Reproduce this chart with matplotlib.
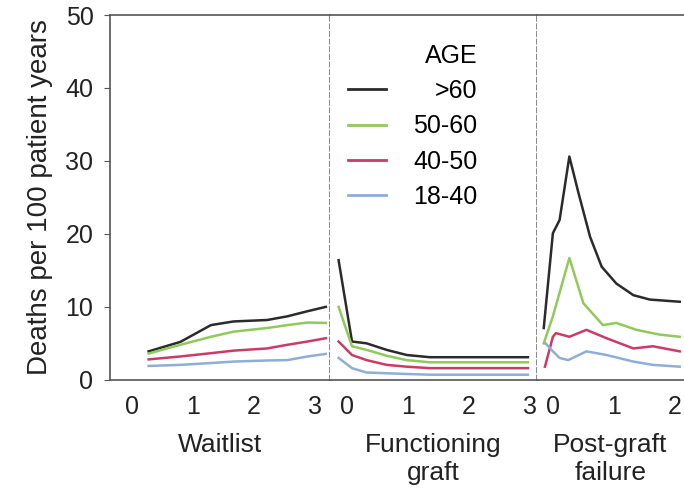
import matplotlib.pyplot as plt
from matplotlib.lines import Line2D

plt.rcParams['font.family'] = ['Liberation Sans', 'DejaVu Sans']

groups = [">60", "50-60", "40-50", "18-40"]
colors = ["#2b2b2b", "#8fca5a", "#cc3a66", "#8eaed6"]

# Waitlist (years)
wait_t = [0.28, 0.80, 1.30, 1.67, 2.22, 2.55, 2.88, 3.18]
wait_vals = {
    ">60":   [3.9, 5.2, 7.5, 8.0, 8.2, 8.7, 9.4, 10.0],
    "50-60": [3.6, 4.8, 5.9, 6.6, 7.1, 7.5, 7.85, 7.8],
    "40-50": [2.8, 3.2, 3.65, 4.0, 4.3, 4.8, 5.25, 5.7],
    "18-40": [1.9, 2.05, 2.3, 2.5, 2.65, 2.7, 3.2, 3.55],
}

# Functioning graft (years)
func_t = [-0.14, 0.08, 0.32, 0.65, 0.98, 1.36, 2.97]
func_vals = {
    ">60":   [16.4, 5.25, 5.0, 4.1, 3.4, 3.1, 3.1],
    "50-60": [10.0, 4.6, 4.1, 3.3, 2.7, 2.4, 2.4],
    "40-50": [5.25, 3.4, 2.7, 2.05, 1.8, 1.6, 1.6],
    "18-40": [3.0, 1.6, 1.0, 0.9, 0.8, 0.7, 0.7],
}

# Post-graft failure (years)
post_t = {
    ">60":   [-0.15, 0.0, 0.11, 0.27, 0.42, 0.61, 0.80, 1.04, 1.32, 1.59, 2.08],
    "50-60": [-0.15, 0.0, 0.27, 0.50, 0.82, 1.04, 1.37, 1.75, 2.08],
    "40-50": [-0.13, 0.0, 0.05, 0.27, 0.55, 0.88, 1.32, 1.64, 2.08],
    "18-40": [-0.12, 0.0, 0.11, 0.25, 0.55, 0.88, 1.32, 1.64, 2.08],
}
post_vals = {
    ">60":   [7.1, 20.1, 21.9, 30.6, 25.6, 19.6, 15.5, 13.2, 11.6, 11.0, 10.7],
    "50-60": [5.0, 8.7, 16.7, 10.5, 7.5, 7.8, 6.85, 6.2, 5.9],
    "40-50": [1.8, 5.9, 6.4, 5.9, 6.85, 5.7, 4.3, 4.6, 3.9],
    "18-40": [5.0, 3.9, 3.0, 2.7, 3.9, 3.4, 2.5, 2.05, 1.8],
}

panel_names = ["Waitlist", "Functioning\ngraft", "Post-graft\nfailure"]
panel_ticks = [[0, 1, 2, 3], [0, 1, 2, 3], [0, 1, 2]]
panel_xlim = [(-0.35, 3.25), (-0.28, 3.12), (-0.26, 2.15)]
yticks = [0, 10, 20, 30, 40, 50]

fig = plt.figure(figsize=(6.84, 4.92), dpi=100)
gs = fig.add_gridspec(1, 3, width_ratios=[220, 207, 147], wspace=0,
                      left=0.161, right=1.0, bottom=0.228, top=0.9695)
axes = [fig.add_subplot(gs[0, i]) for i in range(3)]

for g, c in zip(groups, colors):
    axes[0].plot(wait_t, wait_vals[g], color=c, lw=1.8)
    axes[1].plot(func_t, func_vals[g], color=c, lw=1.8)
    axes[2].plot(post_t[g], post_vals[g], color=c, lw=1.8)

spine_col = "#555555"
for i, ax in enumerate(axes):
    ax.set_ylim(0, 50)
    ax.set_xlim(*panel_xlim[i])
    ax.set_xticks(panel_ticks[i])
    ax.tick_params(axis='x', length=0, labelsize=18, pad=11, colors="#222222")
    ax.set_xlabel(panel_names[i], fontsize=19, labelpad=10, color="#222222",
                  linespacing=1.2)
    ax.spines['top'].set_color(spine_col)
    ax.spines['bottom'].set_color(spine_col)
    ax.spines['top'].set_linewidth(1.2)
    ax.spines['bottom'].set_linewidth(1.2)
    ax.spines['left'].set_visible(i == 0)
    if i < 2:
        ax.spines['right'].set_linestyle((0, (3, 2)))
        ax.spines['right'].set_color("#6a6a6a")
        ax.spines['right'].set_linewidth(1.1)
        ax.spines['right'].set_zorder(3)
    else:
        ax.spines['right'].set_visible(False)
    if i == 0:
        ax.set_yticks(yticks)
        ax.spines['left'].set_color(spine_col)
        ax.spines['left'].set_linewidth(1.2)
        ax.tick_params(axis='y', length=4, labelsize=18, pad=8,
                       colors="#222222", color=spine_col)
        ax.set_ylabel("Deaths per 100 patient years", fontsize=20,
                      labelpad=9, color="#222222")
    else:
        ax.set_yticks([])

handles = [Line2D([], [], color=c, lw=2) for c in colors]
leg = axes[1].legend(handles, groups, title="AGE", loc="upper left",
                     bbox_to_anchor=(0.027, 0.955), frameon=False,
                     fontsize=18, title_fontsize=18, handlelength=1.5,
                     handletextpad=1.1, labelspacing=0.45, borderpad=0,
                     alignment="right")
fig.canvas.draw()
renderer = fig.canvas.get_renderer()
widths = [t.get_window_extent(renderer).width for t in leg.get_texts()]
for t, w in zip(leg.get_texts(), widths):
    t.set_position((max(widths) - w, 0))

fig.savefig("out.png", dpi=100)
